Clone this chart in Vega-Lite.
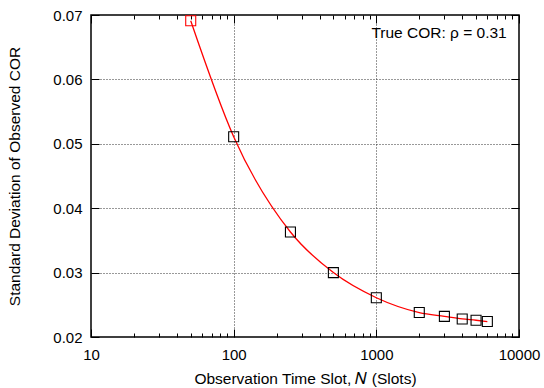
{
  "$schema": "https://vega.github.io/schema/vega-lite/v6.json",
  "width": 428,
  "height": 322,
  "autosize": {"type": "none"},
  "padding": {"left": 91, "top": 15, "right": 25, "bottom": 51},
  "config": {
    "font": "Liberation Sans",
    "view": {"stroke": "black", "strokeWidth": 1.5},
    "axis": {
      "domain": false,
      "tickColor": "black",
      "tickWidth": 1,
      "labelColor": "black",
      "labelFontSize": 15,
      "titleFontSize": 15.5,
      "titleFontWeight": "normal",
      "titleColor": "black",
      "gridColor": "#333333",
      "gridDash": [1, 2],
      "gridWidth": 1
    }
  },
  "datasets": {
    "pts": [
      {"N": 50, "sd": 0.0691},
      {"N": 100, "sd": 0.0511},
      {"N": 250, "sd": 0.0363},
      {"N": 500, "sd": 0.0300},
      {"N": 1000, "sd": 0.0261},
      {"N": 2000, "sd": 0.0238},
      {"N": 3000, "sd": 0.0232},
      {"N": 4000, "sd": 0.0228},
      {"N": 5000, "sd": 0.0226},
      {"N": 6000, "sd": 0.0224}
    ],
    "note": [{"N": 8200, "sd": 0.0672, "label": "True COR: ρ = 0.31"}]
  },
  "resolve": {"axis": {"x": "independent", "y": "independent"}},
  "layer": [
    {
      "data": {"name": "pts"},
      "mark": {"type": "line", "color": "#ff0000", "strokeWidth": 1.3, "interpolate": "monotone"},
      "encoding": {
        "x": {
          "field": "N", "type": "quantitative",
          "scale": {"type": "log", "domain": [10, 10000], "nice": false},
          "axis": {
            "orient": "bottom",
            "title": "Observation Time Slot, 𝑁 (Slots)",
            "titlePadding": 9,
            "values": [10,20,30,40,50,60,70,80,90,100,200,300,400,500,600,700,800,900,1000,2000,3000,4000,5000,6000,7000,8000,9000,10000],
            "labelExpr": "indexof([10,100,1000,10000], datum.value) >= 0 ? format(datum.value, 'd') : ''",
            "tickSize": {"condition": {"test": "indexof([10,100,1000,10000], datum.value) >= 0", "value": -8}, "value": -4},
            "gridOpacity": {"condition": {"test": "indexof([100,1000], datum.value) >= 0", "value": 1}, "value": 0},
            "grid": true,
            "labelPadding": 18,
            "labelFlush": false
          }
        },
        "y": {
          "field": "sd", "type": "quantitative",
          "scale": {"domain": [0.02, 0.07], "nice": false, "zero": false},
          "axis": {
            "orient": "left",
            "title": "Standard Deviation of Observed COR",
            "titlePadding": 30,
            "values": [0.02, 0.03, 0.04, 0.05, 0.06, 0.07],
            "format": ".2f",
            "tickSize": -8,
            "labelPadding": 17,
            "gridOpacity": {"condition": {"test": "datum.value > 0.021 && datum.value < 0.069", "value": 1}, "value": 0},
            "grid": true
          }
        }
      }
    },
    {
      "data": {"name": "pts"},
      "mark": {"type": "point", "shape": "square", "filled": false, "size": 100, "strokeWidth": 1.1, "opacity": 1},
      "encoding": {
        "x": {
          "field": "N", "type": "quantitative",
          "scale": {"type": "log", "domain": [10, 10000], "nice": false},
          "axis": {
            "orient": "top", "title": null, "labels": false, "grid": false,
            "values": [10,20,30,40,50,60,70,80,90,100,200,300,400,500,600,700,800,900,1000,2000,3000,4000,5000,6000,7000,8000,9000,10000],
            "tickSize": {"condition": {"test": "indexof([10,100,1000,10000], datum.value) >= 0", "value": -8}, "value": -4}
          }
        },
        "y": {
          "field": "sd", "type": "quantitative",
          "scale": {"domain": [0.02, 0.07], "nice": false, "zero": false},
          "axis": {
            "orient": "right", "title": null, "labels": false, "grid": false,
            "values": [0.02, 0.03, 0.04, 0.05, 0.06, 0.07],
            "tickSize": -8
          }
        },
        "stroke": {"condition": {"test": "datum.N == 50", "value": "#ff0000"}, "value": "black"}
      }
    },
    {
      "data": {"name": "note"},
      "mark": {"type": "text", "align": "right", "baseline": "middle", "fontSize": 15.5, "color": "black"},
      "encoding": {
        "x": {"field": "N", "type": "quantitative", "scale": {"type": "log", "domain": [10, 10000], "nice": false}, "axis": null},
        "y": {"field": "sd", "type": "quantitative", "scale": {"domain": [0.02, 0.07], "nice": false, "zero": false}, "axis": null},
        "text": {"field": "label"}
      }
    }
  ]
}
